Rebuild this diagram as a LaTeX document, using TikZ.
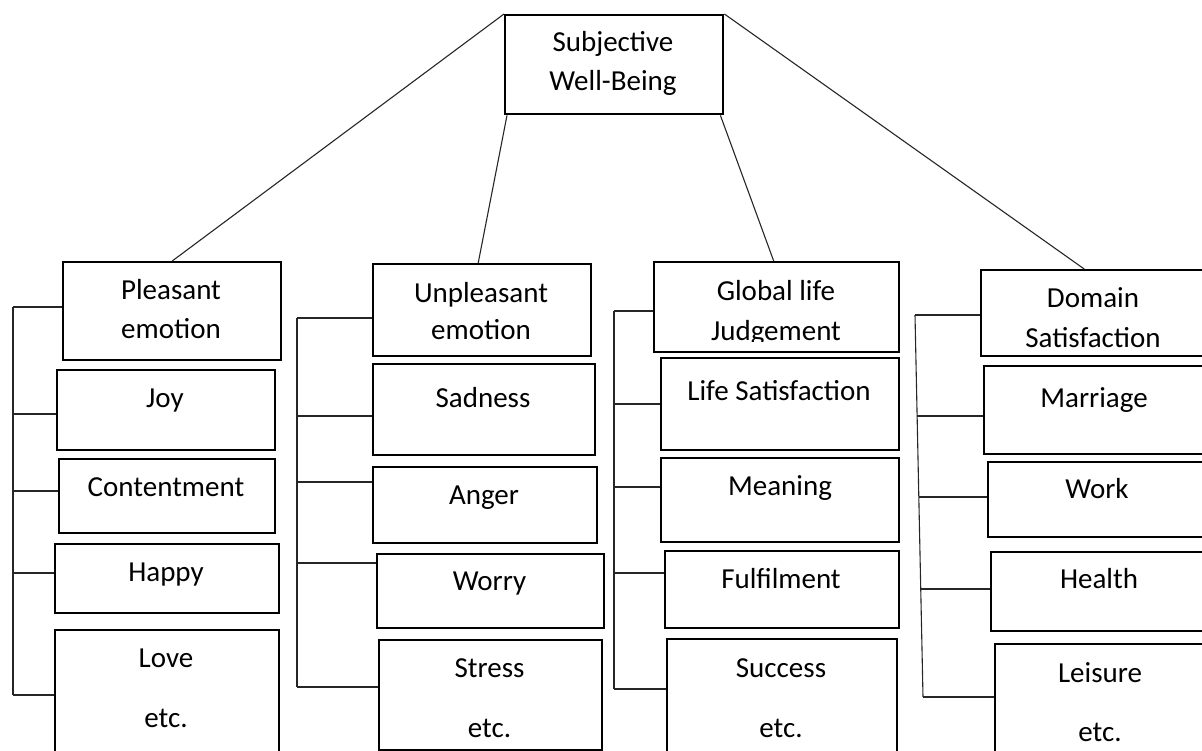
\documentclass[tikz,border=0pt]{standalone}
\usepackage{fontspec}
\setmainfont{Carlito}
\tikzset{
	box/.style={draw=black, line width=2.4pt, anchor=north west, inner sep=0pt},
	txt/.style={anchor=base, inner sep=0pt},
	link/.style={draw=black!85, line width=1.1pt}
}
\begin{document}
\begin{tikzpicture}[x=1pt, y=-1pt, font=\fontsize{29}{35}\selectfont]
	\clip (0,0) rectangle (1202,751);
	%top box
	\node[box, minimum width=218, minimum height=99] (swb) at (504,14) {};
	\node[txt] (swb-1) at (613,52) {Subjective};
	\node[txt] (swb-2) at (613,91) {Well-Being};
	%column 1
	\node[box, minimum width=218, minimum height=98] (pe) at (62,261) {};
	\node[box, minimum width=218, minimum height=80] (joy) at (56,369) {};
	\node[box, minimum width=216, minimum height=74] (cont) at (58,458) {};
	\node[box, minimum width=224, minimum height=69] (happy) at (54,543) {};
	\node[box, minimum width=224, minimum height=200] (love) at (54,629) {};
	\node[txt] (pe-1) at (171,300) {Pleasant};
	\node[txt] (pe-2) at (171,338) {emotion};
	\node[txt] (joy-1) at (165,407) {Joy};
	\node[txt] (cont-1) at (166,496) {Contentment};
	\node[txt] (happy-1) at (166,581) {Happy};
	\node[txt] (love-1) at (166,667) {Love};
	\node[txt] (love-2) at (166,727) {etc.};
	%column 2
	\node[box, minimum width=218, minimum height=92] (ue) at (372,263) {};
	\node[box, minimum width=222, minimum height=91] (sad) at (372,363) {};
	\node[box, minimum width=224, minimum height=76] (anger) at (372,466) {};
	\node[box, minimum width=227, minimum height=74] (worry) at (376,553) {};
	\node[box, minimum width=223, minimum height=110] (stress) at (378,639) {};
	\node[txt] (ue-1) at (481,302) {Unpleasant};
	\node[txt] (ue-2) at (481,339) {emotion};
	\node[txt] (sad-1) at (483,407) {Sadness};
	\node[txt] (anger-1) at (484,504) {Anger};
	\node[txt] (worry-1) at (489.5,590) {Worry};
	\node[txt] (stress-1) at (489.5,677) {Stress};
	\node[txt] (stress-2) at (489.5,737) {etc.};
	%column 3
	\node[box, minimum width=245, minimum height=90] (gl) at (653,261) {};
	\node[box, minimum width=238, minimum height=92] (ls) at (660,357) {};
	\node[box, line width=1.5pt, minimum width=238, minimum height=84] (mean) at (660,457) {};
	\node[box, minimum width=234, minimum height=77] (ful) at (664,550) {};
	\node[box, minimum width=230, minimum height=200] (succ) at (666,638) {};
	\node[txt] (gl-1) at (776,301) {Global life};
	\begin{scope}
		\clip (gl.north west) rectangle ([yshift=12pt]gl.south east);
		\node[txt] (gl-2) at (776,340) {Judgement};
	\end{scope}
	\node[txt] (ls-1) at (779,400) {Life Satisfaction};
	\node[txt] (mean-1) at (780,495) {Meaning};
	\node[txt] (ful-1) at (781,588) {Fulfilment};
	\node[txt] (succ-1) at (781,677) {Success};
	\node[txt] (succ-2) at (781,737) {etc.};
	%column 4
	\node[box, minimum width=226, minimum height=86] (ds) at (980,269) {};
	\node[box, minimum width=222, minimum height=88] (mar) at (983,365) {};
	\node[box, minimum width=220, minimum height=75] (work) at (987,461) {};
	\node[box, minimum width=218, minimum height=79] (health) at (990,551) {};
	\node[box, minimum width=212, minimum height=200] (leis) at (994,643) {};
	\node[txt] (ds-1) at (1093,308) {Domain};
	\begin{scope}
		\clip (ds.north west) rectangle ([yshift=10pt]ds.south east);
		\node[txt] (ds-2) at (1093,347) {Satisfaction};
	\end{scope}
	\node[txt] (mar-1) at (1094,407) {Marriage};
	\node[txt] (work-1) at (1097,498) {Work};
	\node[txt] (health-1) at (1099,588) {Health};
	\node[txt] (leis-1) at (1100,682) {Leisure};
	\node[txt] (leis-2) at (1100,741) {etc.};
	%links from the top box
	\draw[link] (swb.north west) -- (pe.north);
	\draw[link] ([xshift=3pt]swb.south west) -- ([xshift=-4pt]ue.north);
	\draw[link] ([xshift=-4pt]swb.south east) -- ([xshift=-3pt]gl.north);
	\draw[link] (swb.north east) -- ([xshift=-10pt]ds.north);
	%brackets
	\foreach \y/\b [count=\i] in {307/pe, 414/joy, 491/cont, 573/happy, 695/love}
	{
		\coordinate (pl-\i) at (13,\y);
		\draw[link] (pl-\i) -- (pl-\i -| \b.west);
	}
	\draw[link] (pl-1) -- (pl-5);
	\foreach \y/\b [count=\i] in {318/ue, 416/sad, 482/anger, 563/worry, 687/stress}
	{
		\coordinate (un-\i) at (297,\y);
		\draw[link] (un-\i) -- (un-\i -| \b.west);
	}
	\draw[link] (un-1) -- (un-5);
	\foreach \y/\b [count=\i] in {311/gl, 404/ls, 487/mean, 573/ful, 689/succ}
	{
		\coordinate (gj-\i) at (614,\y);
		\draw[link] (gj-\i) -- (gj-\i -| \b.west);
	}
	\draw[link] (gj-1) -- (gj-5);
	\foreach \x/\y/\b [count=\i] in {915/315/ds, 917/416/mar, 919/497/work, 921/589/health, 923/697/leis}
	{
		\coordinate (dm-\i) at (\x,\y);
		\draw[link] (dm-\i) -- (dm-\i -| \b.west);
	}
	\draw[link] (dm-1) -- (dm-5);
\end{tikzpicture}
\end{document}
